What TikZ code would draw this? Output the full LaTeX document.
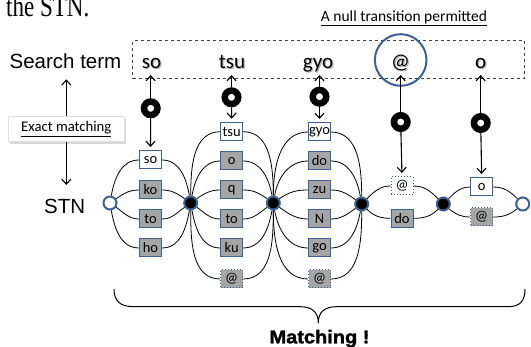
\documentclass[tikz,border=0pt]{standalone}
\usepackage{fontspec}
\setmainfont{Carlito}
\newfontfamily\arialf{Liberation Sans}
\newfontfamily\arialbf[FakeBold=1.6]{Liberation Sans Bold}
\newfontfamily\timesf{Liberation Serif}
\usetikzlibrary{arrows.meta,shadows}
\definecolor{bblue}{RGB}{60,98,148}
\definecolor{bgray}{RGB}{165,165,165}
\newcommand\shtext[1]{\makebox[0pt][l]{\hspace{1.3pt}\raisebox{-1.3pt}{\textcolor{black!30}{#1}}}#1}
\tikzset{
 symb/.style={draw=bblue, line width=1pt, minimum width=22pt, minimum height=18pt, inner sep=0.5pt, font=\fontsize{14.5}{14.5}\selectfont},
 wbox/.style={symb, fill=white},
 gbox/.style={symb, fill=bgray},
 gnull/.style={gbox, dotted},
 wnull/.style={wbox, dotted},
 onode/.style={circle, draw=bblue, line width=2pt, minimum size=13pt, inner sep=0pt, fill=white},
 fnode/.style={onode, fill=black},
 ringn/.style={circle, draw=black, line width=6.5pt, minimum size=13.5pt, inner sep=0pt},
 arr/.style={-{Straight Barb[length=5pt,width=9pt]}, line width=1.1pt},
 stnline/.style={line width=0.8pt},
 sterm/.style={anchor=base, font=\fontsize{21}{21}\selectfont},
}
\begin{document}
\begin{tikzpicture}[x=1pt,y=-1pt]
\useasboundingbox (0,0) rectangle (531,347);
% caption fragment
\node[anchor=base west, font=\timesf\fontsize{23}{23}\selectfont, inner sep=0pt] (cap) at (6,16.5) {\scalebox{1}[1.3]{the STN.}};
% search term box
\node[draw=black!75, dashed, line width=0.8pt, minimum width=391.6pt, minimum height=37.6pt, inner sep=0pt] (sbox) at (328.5,59.5) {};
\node[draw=bblue, line width=2pt, circle, minimum size=51.6pt, inner sep=0pt] (nullc) at (400.7,60) {};
\node[anchor=base, font=\fontsize{15.5}{15.5}\selectfont] (nulltxt) at (404,21.5) {\underline{A null transition permitted}};
\node[sterm] (s1) at (151.5,68.3) {\shtext{so}};
\node[sterm] (s2) at (232,68.3) {\shtext{tsu}};
\node[sterm] (s3) at (318,68.3) {\shtext{gyo}};
\node[sterm] (s4) at (400.5,68.3) {\shtext{@}};
\node[sterm] (s5) at (480.7,68.3) {\shtext{o}};
% labels
\node[anchor=base, font=\arialf\fontsize{20.5}{20.5}\selectfont] (lst) at (65.5,68.3) {Search term};
\node[anchor=base, font=\arialf\fontsize{20.5}{20.5}\selectfont] (lstn) at (64.7,213.3) {STN};
\coordinate (emt) at (66.3,79.3);
\coordinate (emb) at (66.3,185);
\node[draw=black!12, fill=white, drop shadow={shadow xshift=2pt, shadow yshift=-2.5pt, fill=black!30}, minimum width=116pt, minimum height=25pt, inner sep=0pt] (em) at (66.3,129) {\fontsize{14.7}{14.7}\selectfont\underline{Exact matching}};
\draw[arr] (em.north) -- (emt);
\draw[arr] (em.south) -- (emb);
% STN states
\node[onode] (n0) at (110,203) {};
\node[fnode] (n1) at (190.7,203) {};
\node[fnode] (n2) at (273.3,203) {};
\node[fnode] (n3) at (361.7,204) {};
\node[fnode] (n4) at (443.3,204) {};
\node[onode] (n5) at (522.7,204) {};
% symbols
\node[wbox] (a1) at (150.5,160) {so};
\node[gbox] (a2) at (150.5,190) {ko};
\node[gbox] (a3) at (150.5,219) {to};
\node[gbox] (a4) at (150.5,248) {ho};
\node[wbox] (b1) at (231.7,131.7) {tsu};
\node[gbox] (b2) at (231.7,161) {o};
\node[gbox] (b3) at (231.7,190) {q};
\node[gbox] (b4) at (231.7,219) {to};
\node[gbox] (b5) at (231.7,248) {ku};
\node[gnull] (b6) at (231.7,279) {@};
\node[wbox] (c1) at (319.5,132) {gyo};
\node[gbox] (c2) at (319.5,161) {do};
\node[gbox] (c3) at (319.5,190) {zu};
\node[gbox] (c4) at (319.5,219) {N};
\node[gbox] (c5) at (319.5,248) {go};
\node[gnull] (c6) at (319.5,279) {@};
\node[wnull] (d1) at (402,186) {@};
\node[gbox] (d2) at (402,218.3) {do};
\node[wbox] (e1) at (481.7,187) {o};
\node[gnull] (e2) at (481.7,217) {@};
% transitions
\foreach \b/\l/\r/\a in {a1/n0/n1/80, a2/n0/n1/35, a3/n0/n1/-35, a4/n0/n1/-80,
  b1/n1/n2/90, b2/n1/n2/80, b3/n1/n2/35, b4/n1/n2/-35, b5/n1/n2/-80, b6/n1/n2/-90,
  c1/n2/n3/90, c2/n2/n3/80, c3/n2/n3/35, c4/n2/n3/-35, c5/n2/n3/-80, c6/n2/n3/-90,
  d1/n3/n4/45, d2/n3/n4/-45, e1/n4/n5/45, e2/n4/n5/-40}{
  \pgfmathsetmacro\ia{180-\a}
  \draw[stnline] (\l) to[out=\a,in=180] (\b.west) (\b.east) to[out=0,in=\ia] (\r);
}
% rings and arrows
\node[ringn] (r1) at (150.7,108.3) {};
\node[ringn] (r2) at (231.5,97.3) {};
\node[ringn] (r3) at (319.5,96.7) {};
\node[ringn] (r4) at (400.7,122) {};
\node[ringn] (r5) at (480.7,123) {};
\coordinate (t1) at (150.7,75);
\coordinate (t2) at (231.5,75);
\coordinate (t3) at (319.5,75);
\coordinate (t4) at (400.7,75);
\coordinate (t5) at (480.7,75);
\foreach \r/\t/\bx in {r1/t1/a1, r2/t2/b1, r3/t3/c1, r4/t4/d1, r5/t5/e1}{
  \draw[arr] (\r) -- (\t);
  \draw[arr, shorten >=3.5pt] (\r) -- (\bx.north);
}
% brace
\draw[line width=1pt] (114,289) .. controls (114,301) and (120,306.7) .. (134,306.7) -- (300,306.7) .. controls (312,306.7) and (318.3,312) .. (318.3,323) .. controls (318.3,312) and (324.6,306.7) .. (336.6,306.7) -- (508,306.7) .. controls (520,306.7) and (525,301) .. (525,289);
\node[anchor=base, font=\arialbf\fontsize{18.5}{18.5}\selectfont, inner sep=0pt] (mt) at (319.5,343.3) {\scalebox{1.08}[1]{Matching !}};
\end{tikzpicture}
\end{document}
